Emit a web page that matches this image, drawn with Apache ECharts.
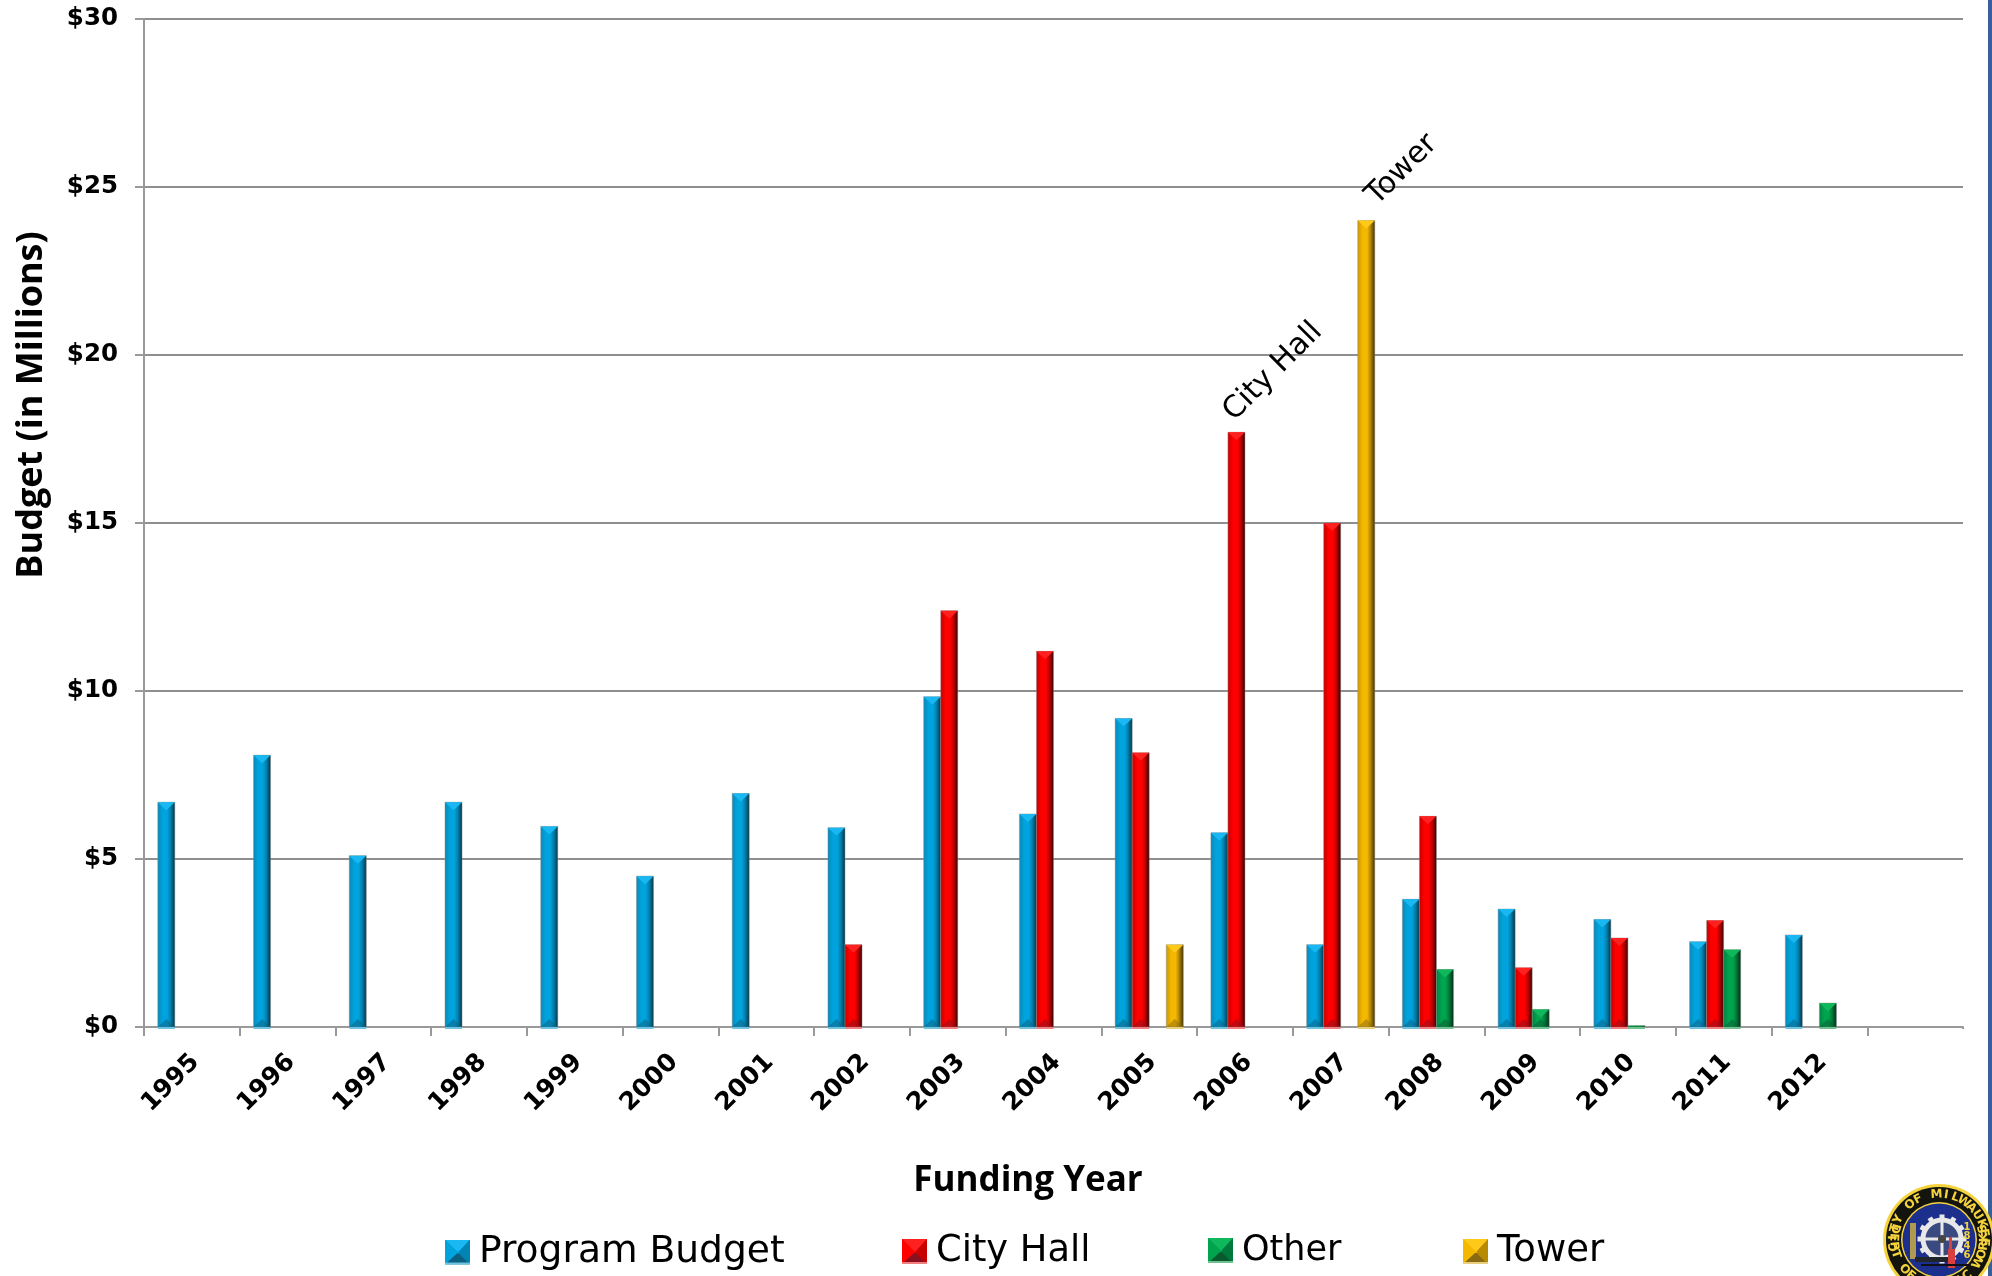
<!DOCTYPE html>
<html>
<head>
<meta charset="utf-8">
<title>Funding Year Budget</title>
<script src="https://cdn.jsdelivr.net/npm/echarts@6/dist/echarts.min.js"></script>
<style>
    html, body { margin: 0; padding: 0; background: #fff; overflow: hidden; }
    #main { width: 1992px; height: 1276px; }
</style>
</head>
<body>
<div id="main"></div>
<script>
// last category is empty in the original chart
const years = ['1995','1996','1997','1998','1999','2000','2001','2002','2003','2004','2005','2006','2007','2008','2009','2010','2011','2012',''];
const programBudget = [6.69,8.09,5.1,6.69,5.97,4.49,6.95,5.93,9.83,6.34,9.18,5.78,2.45,3.8,3.51,3.2,2.54,2.74,null];
const cityHall = [null,null,null,null,null,null,null,2.45,12.39,11.18,8.16,17.7,15,6.27,1.76,2.65,3.17,null,null];
const other = [null,null,null,null,null,null,null,null,null,null,null,null,null,1.71,0.52,0.04,2.3,0.71,null];
const tower = [null,null,null,null,null,null,null,null,null,null,2.45,null,24,null,null,null,null,null,null];
const valueTicks = [0,5,10,15,20,25,30];

const FONT = '"DejaVu Sans"';
const TITLE_FONT = '"Open Sans"';

// colours of the bevelled bars: left, middle, shade, right, top, bottom, foot
const palette = {
    blue:  { l:'#0b86b4', m:'#00a3dd', s:'#0084b3', r:'#00303f', top:'#19b8f2', bot:'#0b5f80', foot:'#6fc3e0' },
    red:   { l:'#c00000', m:'#ff0000', s:'#c80000', r:'#2b0000', top:'#ff2020', bot:'#8a1020', foot:'#f08080' },
    green: { l:'#00803e', m:'#00a44f', s:'#007a3a', r:'#002a12', top:'#10b85c', bot:'#0a5a30', foot:'#70c090' },
    gold:  { l:'#c79400', m:'#f4b800', s:'#b88a00', r:'#3a2c00', top:'#ffc91a', bot:'#8a6a10', foot:'#e8cf80' }
};

function barFill(c) {
    return new echarts.graphic.LinearGradient(0, 0, 1, 0, [
        { offset: 0, color: c.l },
        { offset: 0.3, color: c.m },
        { offset: 0.55, color: c.m },
        { offset: 0.72, color: c.s },
        { offset: 1, color: c.r }
    ]);
}

// little bevelled square for the legend
function legendIcon(c) {
    const svg = '<svg xmlns="http://www.w3.org/2000/svg" width="25" height="25">' +
        '<rect width="25" height="25" fill="' + c.m + '"/>' +
        '<polygon points="0,0 25,0 14,12 12,12" fill="' + c.top + '"/>' +
        '<polygon points="0,0 12,12 12,14 0,25" fill="' + c.m + '"/>' +
        '<polygon points="25,0 14,12 14,14 25,25" fill="' + c.s + '"/>' +
        '<polygon points="0,25 12,14 14,14 25,25" fill="' + c.bot + '"/>' +
        '<rect y="23" width="25" height="2" fill="' + c.foot + '"/>' +
        '</svg>';
    return 'image://data:image/svg+xml,' + encodeURIComponent(svg);
}

// notes written over single bars
const notes = { '2006': 'City Hall', '2007': 'Tower' };
const noteSeries = { '2006': 1, '2007': 3 };
const noteShift = { '2006': [-8, -16], '2007': [5, -20] };

function makeRender(seriesIdx, c) {
    const fill = barFill(c);
    return function (params, api) {
        const val = api.value(1);
        if (isNaN(val)) return;
        const cat = api.value(0);
        const top = api.coord([cat, val]);
        const base = api.coord([cat, 0]);
        const band = api.size([1, 0])[0];
        const w = band * 0.178;
        const x = top[0] - w * 2 + seriesIdx * w;
        const h = base[1] - top[1];
        const bevel = Math.min(8, h);
        const kids = [
            { type: 'rect', shape: { x: x, y: top[1], width: w, height: h },
              style: { fill: fill, stroke: 'rgba(140,140,140,0.45)', lineWidth: 1 } },
            { type: 'polygon', shape: { points: [[x, top[1]], [x + w, top[1]], [x + w / 2, top[1] + bevel]] },
              style: { fill: c.top } },
            { type: 'polygon', shape: { points: [[x, base[1]], [x + w, base[1]], [x + w / 2, base[1] - bevel]] },
              style: { fill: c.bot, opacity: 0.5 } },
            { type: 'rect', shape: { x: x, y: base[1], width: w, height: 2 }, style: { fill: c.foot } }
        ];
        const year = years[cat];
        if (notes[year] && noteSeries[year] === seriesIdx) {
            kids.push({
                type: 'text',
                x: x + w / 2 + noteShift[year][0],
                y: top[1] + noteShift[year][1],
                rotation: Math.PI / 4,
                style: { text: notes[year], font: '30px ' + FONT, fill: '#000', align: 'left', verticalAlign: 'middle' }
            });
        }
        return { type: 'group', children: kids };
    };
}

function pairs(values) {
    return values.map(function (v, i) { return [i, v == null ? NaN : v]; });
}

function oneSeries(name, values, idx, c) {
    return {
        type: 'custom',
        name: name,
        coordinateSystem: 'cartesian2d',
        renderItem: makeRender(idx, c),
        encode: { x: 0, y: 1 },
        itemStyle: { color: c.m },
        clip: false,
        silent: true,
        data: pairs(values)
    };
}

function oneLegend(name, left, size, c) {
    return {
        data: [{ name: name, icon: legendIcon(c) }],
        left: left,
        top: 1228,
        itemWidth: 25,
        itemHeight: 25,
        itemGap: 0,
        selectedMode: false,
        textStyle: { fontFamily: FONT, fontSize: size, color: '#000', padding: [0, 0, 4, 4] }
    };
}

// seal in the corner, letters set one by one round the ring
function ringText(str, cx, cy, r, midDeg, stepDeg, inward) {
    const out = [];
    const start = midDeg - stepDeg * (str.length - 1) / 2;
    for (let i = 0; i < str.length; i++) {
        const a = (start + i * stepDeg) * Math.PI / 180;
        out.push({
            type: 'text',
            x: cx + r * Math.sin(a),
            y: cy - r * Math.cos(a),
            rotation: inward ? -a : Math.PI - a,
            style: { text: str[i], font: 'bold 12px ' + FONT, fill: '#f5d33c', align: 'center', verticalAlign: 'middle' },
            z: 30
        });
    }
    return out;
}

function seal() {
    const cx = 1939, cy = 1240;
    const circle = function (x, y, r, fill, z) {
        return { type: 'circle', shape: { cx: x, cy: y, r: r }, style: { fill: fill }, z: z };
    };
    const box = function (x, y, w, h, fill) {
        return { type: 'rect', shape: { x: x, y: y, width: w, height: h }, style: { fill: fill }, z: 26 };
    };
    const gx = cx + 3, gy = cy - 1;
    let list = [
        circle(cx, cy, 56, '#f5d33c', 20),
        circle(cx, cy, 53, '#14140f', 21),
        circle(cx, cy, 38, '#f5d33c', 22),
        circle(cx, cy, 36.5, '#1c2f8c', 23),
        { type: 'circle', shape: { cx: gx, cy: gy, r: 19 },
          style: { fill: '#3a4a80', stroke: '#e8e8e8', lineWidth: 5 }, z: 24 },
        box(gx - 18, gy - 1.5, 36, 3, '#e8e8e8'),
        box(gx - 1.5, gy - 18, 3, 36, '#e8e8e8'),
        circle(gx, gy, 4, '#444', 26),
        box(cx - 29, cy - 17, 6, 36, '#b09a50'),
        box(cx - 24, cy + 17, 38, 5, '#20242c'),
        box(cx + 10, cy - 3, 3, 12, '#d84040'),
        box(cx + 9, cy + 9, 7, 19, '#d84040'),
        box(cx - 18, cy + 24, 48, 2, '#101018')
    ];
    // gear teeth
    for (let i = 0; i < 12; i++) {
        const a = i * Math.PI / 6;
        list.push({
            type: 'rect',
            x: gx + 22 * Math.sin(a),
            y: gy - 22 * Math.cos(a),
            rotation: -a,
            shape: { x: -2.5, y: -2.5, width: 5, height: 5 },
            style: { fill: '#e8e8e8' },
            z: 25
        });
    }
    '1846'.split('').forEach(function (d, i) {
        list.push({
            type: 'text', x: cx + 28, y: cy - 13 + i * 9.5, z: 27,
            style: { text: d, font: 'bold 10px ' + FONT, fill: '#f5d33c', align: 'center', verticalAlign: 'middle' }
        });
    });
    return list
        .concat(ringText('CITY OF MILWAUKEE', cx, cy, 45.5, -3, 12, true))
        .concat(ringText('DEPT OF PUBLIC WORKS', cx, cy, 45.5, 180, -11, false));
}

const myChart = echarts.init(document.getElementById('main'));

myChart.setOption({
    backgroundColor: '#fff',
    animation: false,
    grid: { left: 144, top: 19, width: 1819, height: 1008 },
    legend: [
        oneLegend('Program Budget', 440, 37.6, palette.blue),
        oneLegend('City Hall', 897, 36.8, palette.red),
        oneLegend('Other', 1203, 35, palette.green),
        oneLegend('Tower', 1458, 37, palette.gold)
    ],
    xAxis: {
        type: 'category',
        data: years,
        axisLine: { lineStyle: { color: '#999', width: 2 } },
        axisTick: { show: true, alignWithLabel: false, length: 9, lineStyle: { color: '#999', width: 2 } },
        axisLabel: {
            interval: 0,
            rotate: 45,
            margin: 35,
            color: '#000',
            fontFamily: FONT,
            fontWeight: 'bold',
            fontSize: 25,
            padding: [0, -5, 0, 0]
        }
    },
    yAxis: {
        type: 'value',
        min: valueTicks[0],
        max: valueTicks[valueTicks.length - 1],
        interval: valueTicks[1] - valueTicks[0],
        axisLine: { show: true, lineStyle: { color: '#999', width: 2 } },
        axisTick: { show: true, length: 9, lineStyle: { color: '#999', width: 2 } },
        splitLine: { show: true, lineStyle: { color: '#8f8f8f', width: 2 } },
        axisLabel: {
            margin: 26,
            color: '#000',
            fontFamily: FONT,
            fontWeight: 'bold',
            fontSize: 24.5,
            formatter: '${value}',
            padding: [4, 0, 0, 0]
        }
    },
    series: [
        oneSeries('Program Budget', programBudget, 0, palette.blue),
        oneSeries('City Hall', cityHall, 1, palette.red),
        oneSeries('Other', other, 2, palette.green),
        oneSeries('Tower', tower, 3, palette.gold)
    ],
    graphic: [
        // the original has no tick at the far end of the axis
        { type: 'rect', shape: { x: 1958, y: 1029, width: 10, height: 11 }, style: { fill: '#fff' }, z: 10 },
        { type: 'rect', shape: { x: 1988, y: 0, width: 4, height: 1276 }, style: { fill: '#37609a' }, z: 10 },
        { type: 'text', x: 1028, y: 1181, z: 10,
          style: { text: 'Funding Year', font: 'bold 35px ' + TITLE_FONT, fill: '#000', align: 'center', verticalAlign: 'middle' } },
        { type: 'text', x: 31.5, y: 405, rotation: Math.PI / 2, z: 10,
          style: { text: 'Budget (in Millions)', font: 'bold 36px ' + TITLE_FONT, fill: '#000', align: 'center', verticalAlign: 'middle' } }
    ].concat(seal())
});
</script>
</body>
</html>
